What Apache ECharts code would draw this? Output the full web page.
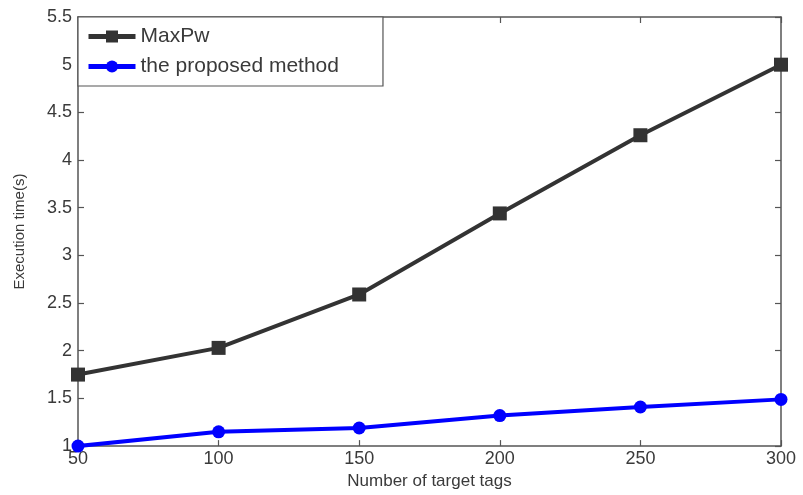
<!DOCTYPE html>
<html>
<head>
<meta charset="utf-8">
<script src="https://cdn.jsdelivr.net/npm/echarts@6/dist/echarts.min.js"></script>
<style>html,body{margin:0;padding:0;background:#fff;}#c{width:803px;height:495px;}</style>
</head>
<body>
<div id="c"></div>
<script>
const xValues = [50, 100, 150, 200, 250, 300];
const maxPw = [1.75, 2.03, 2.59, 3.44, 4.26, 5.0];
const proposed = [1.0, 1.15, 1.19, 1.32, 1.41, 1.49];
const seriesNames = ['MaxPw', 'the proposed method'];
const xTitle = 'Number of target tags';
const yTitle = 'Execution time(s)';

const font = 'Liberation Sans, Arial, sans-serif';
const textColor = '#3a3a3a';
const chart = echarts.init(document.getElementById('c'), null, {renderer: 'canvas'});
const pair = (arr) => xValues.map((x, i) => [x, arr[i]]);
const axisLine = {show: true, lineStyle: {color: '#555', width: 1.5}};
const tick = {show: true, inside: true, length: 6, lineStyle: {color: '#555', width: 1.2}};
chart.setOption({
  animation: false,
  backgroundColor: '#fff',
  grid: {left: 78, right: 22, top: 17, bottom: 47, containLabel: false},
  legend: {
    orient: 'vertical', left: 78, top: 17,
    data: seriesNames,
    itemWidth: 47, itemHeight: 15, itemGap: 9,
    padding: [9, 44, 9, 8],
    lineStyle: {width: 5},
    borderColor: '#555', borderWidth: 1.2, backgroundColor: '#fff',
    textStyle: {fontFamily: font, fontSize: 21, color: textColor}
  },
  xAxis: [
    {type: 'value', min: 50, max: 300, interval: 50, name: xTitle, nameLocation: 'middle', nameGap: 26,
     nameTextStyle: {fontFamily: font, fontSize: 17, color: textColor},
     axisLine: axisLine, axisTick: tick, splitLine: {show: false},
     axisLabel: {fontFamily: font, fontSize: 18, color: textColor, margin: 4}},
    {type: 'value', position: 'top', min: 50, max: 300, interval: 50,
     axisLine: axisLine, axisTick: tick, splitLine: {show: false}, axisLabel: {show: false}}
  ],
  yAxis: [
    {type: 'value', min: 1, max: 5.5, interval: 0.5, name: yTitle, nameLocation: 'middle', nameGap: 51,
     nameTextStyle: {fontFamily: font, fontSize: 15, color: textColor},
     axisLine: axisLine, axisTick: tick, splitLine: {show: false},
     axisLabel: {fontFamily: font, fontSize: 18, color: textColor, margin: 6}},
    {type: 'value', position: 'right', min: 1, max: 5.5, interval: 0.5,
     axisLine: axisLine, axisTick: tick, splitLine: {show: false}, axisLabel: {show: false}}
  ],
  series: [
    {name: seriesNames[0], type: 'line', data: pair(maxPw), symbol: 'rect', symbolSize: 14,
     lineStyle: {color: '#333', width: 4}, itemStyle: {color: '#333'}, z: 3},
    {name: seriesNames[1], type: 'line', data: pair(proposed), symbol: 'circle', symbolSize: 13,
     lineStyle: {color: '#0000ff', width: 4}, itemStyle: {color: '#0000ff'}, z: 4}
  ]
});
</script>
</body>
</html>
